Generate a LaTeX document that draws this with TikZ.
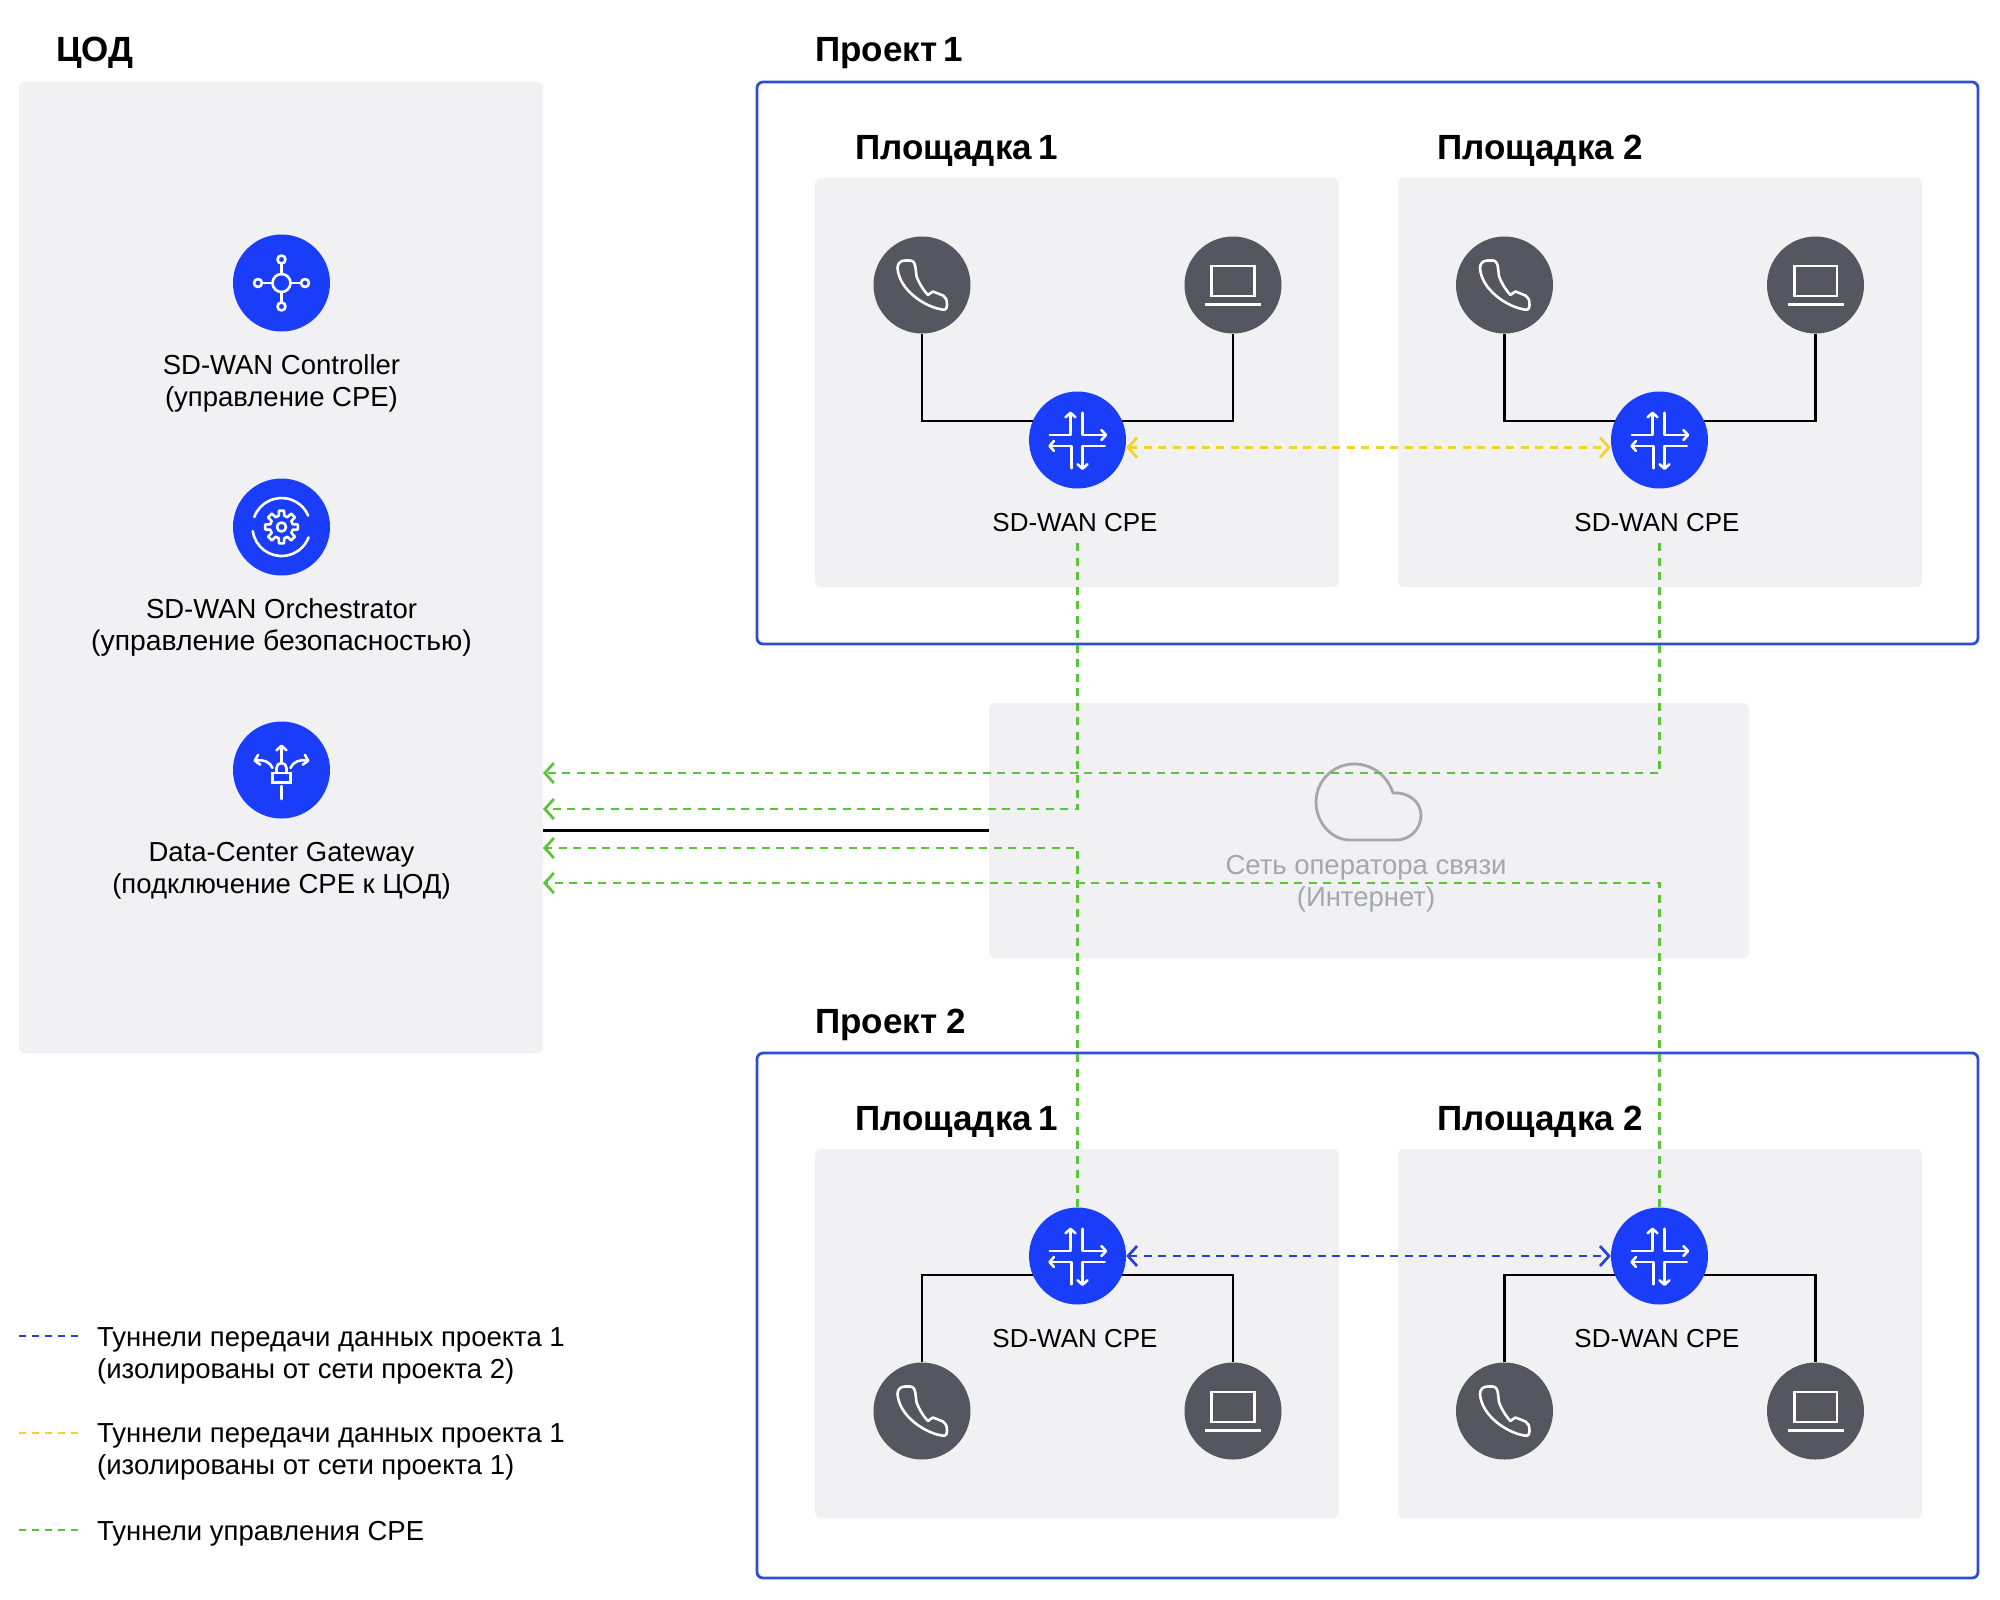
\documentclass[tikz,border=0pt]{standalone}
\usepackage{fontspec}
\setmainfont{Liberation Sans}
\usetikzlibrary{arrows.meta,calc}
\definecolor{panelgray}{HTML}{F1F1F3}
\definecolor{corebl}{HTML}{1A3DFA}
\definecolor{devgray}{HTML}{54575F}
\definecolor{framebl}{HTML}{2D4FD0}
\definecolor{tungreen}{HTML}{5AC43A}
\definecolor{tunyellow}{HTML}{F9CF2A}
\definecolor{tunblue}{HTML}{2A3FD6}
\definecolor{cloudgray}{HTML}{A5A7AB}
\tikzset{
  panel/.style={fill=panelgray,draw=none,rounded corners=6pt,inner sep=0pt},
  framebox/.style={draw=framebl,line width=2.8pt,fill=white,rounded corners=6pt,inner sep=0pt},
  corecircle/.style={circle,fill=corebl,draw=none,minimum size=97pt,inner sep=0pt},
  devcircle/.style={circle,fill=devgray,draw=none,minimum size=97pt,inner sep=0pt},
  bodytext/.style={font=\fontsize{27.5}{32}\selectfont,align=center,inner sep=0pt,text=black},
  cpetext/.style={font=\fontsize{26}{32}\selectfont,align=center,inner sep=0pt,text=black},
  legendtext/.style={font=\fontsize{27.5}{32}\selectfont,align=left,anchor=west,inner sep=0pt,text=black},
  headtext/.style={font=\fontsize{35}{40}\selectfont\bfseries,anchor=west,inner sep=0pt,text=black},
  link/.style={draw=black,line width=2.7pt},
  tunnel/.style={line width=2.7pt,dash pattern=on 8pt off 6.5pt,>={Straight Barb[length=9pt,width=20pt]}},
  legline/.style={line width=2.2pt,dash pattern=on 7pt off 6pt},
  iconline/.style={draw=white,line width=2.6pt,line cap=round,line join=round},
  iconarrow/.style={iconline,-{Straight Barb[length=4.5pt,width=10pt,round]}},
  phoneicon/.pic={
    \draw[iconline] (-17,-24.5) -- (-12,-24.5) .. controls (-8,-24.5) and (-7,-21) .. (-6.5,-17)
      -- (-5.5,-9) .. controls (-4,-4) and (1,5) .. (6,10)
      .. controls (8,9) and (9,7) .. (11,6.5) -- (21,10.5)
      .. controls (24,12) and (25,15) .. (25,20) -- (24.5,23)
      .. controls (24,25) and (22,25) .. (20,24.5)
      .. controls (3,22) and (-23,5) .. (-24.5,-17)
      .. controls (-24.5,-22) and (-21,-24.5) .. cycle;
  },
  laptopicon/.pic={
    \draw[iconline,line cap=butt,line join=miter] (-21.3,-19) rectangle (21.3,11);
    \draw[iconline,line cap=butt] (-28,19.3) -- (28,19.3);
  },
  routericon/.pic={
    \draw[iconarrow] (-27.7,-5) -- (-7,-5) -- (-7,-28.5);
    \draw[iconarrow] (5,-27.3) -- (5,-5) -- (29.7,-5);
    \draw[iconarrow] (-6,28.3) -- (-6,6) -- (-29.3,6);
    \draw[iconarrow] (27.3,6) -- (5,6) -- (5,30);
  },
  hubicon/.pic={
    \draw[iconline] (0,0) circle[radius=9];
    \foreach \px/\py in {-23.5/0,23.5/0,0/-23.5,0/23.5}{\draw[iconline] (\px,\py) circle[radius=4];}
    \draw[iconline] (-19.5,0) -- (-9,0) (9,0) -- (19.5,0) (0,-19.5) -- (0,-9) (0,9) -- (0,19.5);
  },
  gearicon/.pic={
    \foreach \a in {0,45,...,315}{
      \draw[iconline] (\a-31:11.5) -- (\a-14:11.5) -- (\a-9:16.5) -- (\a+9:16.5) -- (\a+14:11.5);
    }
    \draw[iconline] (0,0) circle[radius=4.5];
    \draw[iconline] (200:29) arc[start angle=200,end angle=337,radius=29];
    \draw[iconline] (172:29) arc[start angle=172,end angle=21,radius=29];
  },
  gateicon/.pic={
    \draw[iconline,line join=miter] (-9,3) rectangle (9,12.6);
    \draw[iconline] (-5,3) -- (-5,-2) arc[start angle=180,end angle=360,radius=5] -- (5,3);
    \draw[iconarrow] (0,-8) -- (0,-25.5);
    \draw[iconline] (0,16) -- (0,29);
    \draw[iconarrow] (-9,-2) .. controls (-11,-8) and (-19,-11) .. (-28,-9);
    \draw[iconarrow] (9,-2) .. controls (11,-8) and (19,-11) .. (28,-9);
  }
}
\begin{document}
\begin{tikzpicture}[x=1pt,y=-1pt]
\fill[white] (0,0) rectangle (2000,1599);
\useasboundingbox (0,0) rectangle (2000,1599);

% data centre panel
\node[panel,minimum width=524pt,minimum height=971pt] (cod) at (281,567.5) {};
\node[headtext] (codtitle) at (56,53) {ЦОД};

\node[corecircle] (ctrl) at (281.5,283) {};
\pic at (ctrl) {hubicon};
\node[bodytext] (ctrltext) at (281.5,383) {SD-WAN Controller\\(управление CPE)};
\node[corecircle] (orch) at (281.5,527) {};
\pic at (orch) {gearicon};
\node[bodytext] (orchtext) at (281.5,627) {SD-WAN Orchestrator\\{\fontsize{28.3}{32}\selectfont(управление безопасностью)}};
\node[corecircle] (gate) at (281.5,770) {};
\pic at (gate) {gateicon};
\node[bodytext] (gatetext) at (281.5,871) {Data-Center Gateway\\(подключение CPE к ЦОД)};

% project frames
\node[framebox,minimum width=1221pt,minimum height=562pt] (projA) at (1367.5,363) {};
\node[headtext] (projAt) at (815,53) {Проект\kern-3pt{} 1};
\node[framebox,minimum width=1221pt,minimum height=525pt] (projB) at (1367.5,1315.5) {};
\node[headtext] (projBt) at (815,1025) {Проект 2};

% site panels
\node[panel,minimum width=524pt,minimum height=409pt] (siteA1) at (1077,382.5) {};
\node[panel,minimum width=524pt,minimum height=409pt] (siteA2) at (1660,382.5) {};
\node[panel,minimum width=524pt,minimum height=369pt] (siteB1) at (1077,1333.5) {};
\node[panel,minimum width=524pt,minimum height=369pt] (siteB2) at (1660,1333.5) {};
\node[headtext] (siteA1t) at (855,151) {Площадка\kern-3pt{} 1};
\node[headtext] (siteA2t) at (1437,151) {Площадка 2};
\node[headtext] (siteB1t) at (855,1122) {Площадка\kern-3pt{} 1};
\node[headtext] (siteB2t) at (1437,1122) {Площадка 2};

% operator network
\node[panel,minimum width=760pt,minimum height=255pt] (net) at (1369,830.5) {};
\draw[draw=cloudgray,line width=2.8pt,line join=round]
  (1396,840) -- (1350,840) .. controls (1331,840) and (1316,822) .. (1316,802)
  .. controls (1316,781) and (1333,764) .. (1354,764)
  .. controls (1372,764) and (1387,775) .. (1393,793)
  .. controls (1410,792) and (1421,803) .. (1421,815)
  .. controls (1421,829) and (1410,840) .. cycle;
\node[bodytext,text=cloudgray] (nettext) at (1366,884) {Сеть оператора связи\\(Интернет)};

% devices
\node[devcircle] (phA1) at (922,285) {};
\node[devcircle] (lpA1) at (1233,285) {};
\node[devcircle] (phA2) at (1504.5,285) {};
\node[devcircle] (lpA2) at (1815.5,285) {};
\node[devcircle] (phB1) at (922,1411) {};
\node[devcircle] (lpB1) at (1233,1411) {};
\node[devcircle] (phB2) at (1504.5,1411) {};
\node[devcircle] (lpB2) at (1815.5,1411) {};
\foreach \n in {phA1,phA2,phB1,phB2}{\pic at (\n) {phoneicon};}
\foreach \n in {lpA1,lpA2,lpB1,lpB2}{\pic at (\n) {laptopicon};}

% wired links
\coordinate (jA1) at (1077.5,421);
\coordinate (jA2) at (1659.5,421);
\coordinate (jB1) at (1077.5,1275);
\coordinate (jB2) at (1659.5,1275);
\draw[link] (phA1.south) |- (jA1) -| (lpA1.south);
\draw[link] (phA2.south) |- (jA2) -| (lpA2.south);
\draw[link] (phB1.north) |- (jB1) -| (lpB1.north);
\draw[link] (phB2.north) |- (jB2) -| (lpB2.north);
\draw[link] (net.west) -- (net.west -| cod.east);

% CPE
\node[corecircle] (cpeA1) at (1077.5,440) {};
\node[corecircle] (cpeA2) at (1659.5,440) {};
\node[corecircle] (cpeB1) at (1077.5,1256) {};
\node[corecircle] (cpeB2) at (1659.5,1256) {};
\foreach \n in {cpeA1,cpeA2,cpeB1,cpeB2}{\pic at (\n) {routericon};}
\node[cpetext] (cpeA1t) at (1075,523) {SD-WAN CPE};
\node[cpetext] (cpeA2t) at (1657,523) {SD-WAN CPE};
\node[cpetext] (cpeB1t) at (1075,1339) {SD-WAN CPE};
\node[cpetext] (cpeB2t) at (1657,1339) {SD-WAN CPE};

% control tunnels
\coordinate (gA1) at (543,809);
\coordinate (gA2) at (543,773);
\coordinate (gB1) at (543,848);
\coordinate (gB2) at (543,883);
\coordinate (sA1) at (1077.5,543);
\coordinate (sA2) at (1659.5,543);
\draw[tunnel,tungreen,->] (sA1) |- (gA1);
\draw[tunnel,tungreen,->] (sA2) |- (gA2);
\draw[tunnel,tungreen,->] (cpeB1.north) |- (gB1);
\draw[tunnel,tungreen,->] (cpeB2.north) |- (gB2);

% data tunnels
\draw[tunnel,tunyellow,<->] ([yshift=-7.5pt]cpeA1.east) -- ([yshift=-7.5pt]cpeA2.west);
\draw[tunnel,tunblue,<->] (cpeB1.east) -- (cpeB2.west);

% legend
\coordinate (l1a) at (19,1336); \coordinate (l1b) at (79,1336);
\coordinate (l2a) at (19,1433); \coordinate (l2b) at (79,1433);
\coordinate (l3a) at (19,1530); \coordinate (l3b) at (79,1530);
\draw[legline,tunblue] (l1a) -- (l1b);
\draw[legline,tunyellow] (l2a) -- (l2b);
\draw[legline,tungreen] (l3a) -- (l3b);
\node[legendtext] (leg1) at (97,1356) {Туннели передачи данных проекта 1\\(изолированы от сети проекта 2)};
\node[legendtext] (leg2) at (97,1452) {Туннели передачи данных проекта 1\\(изолированы от сети проекта 1)};
\node[legendtext] (leg3) at (97,1534) {Туннели управления CPE};
\end{tikzpicture}
\end{document}
